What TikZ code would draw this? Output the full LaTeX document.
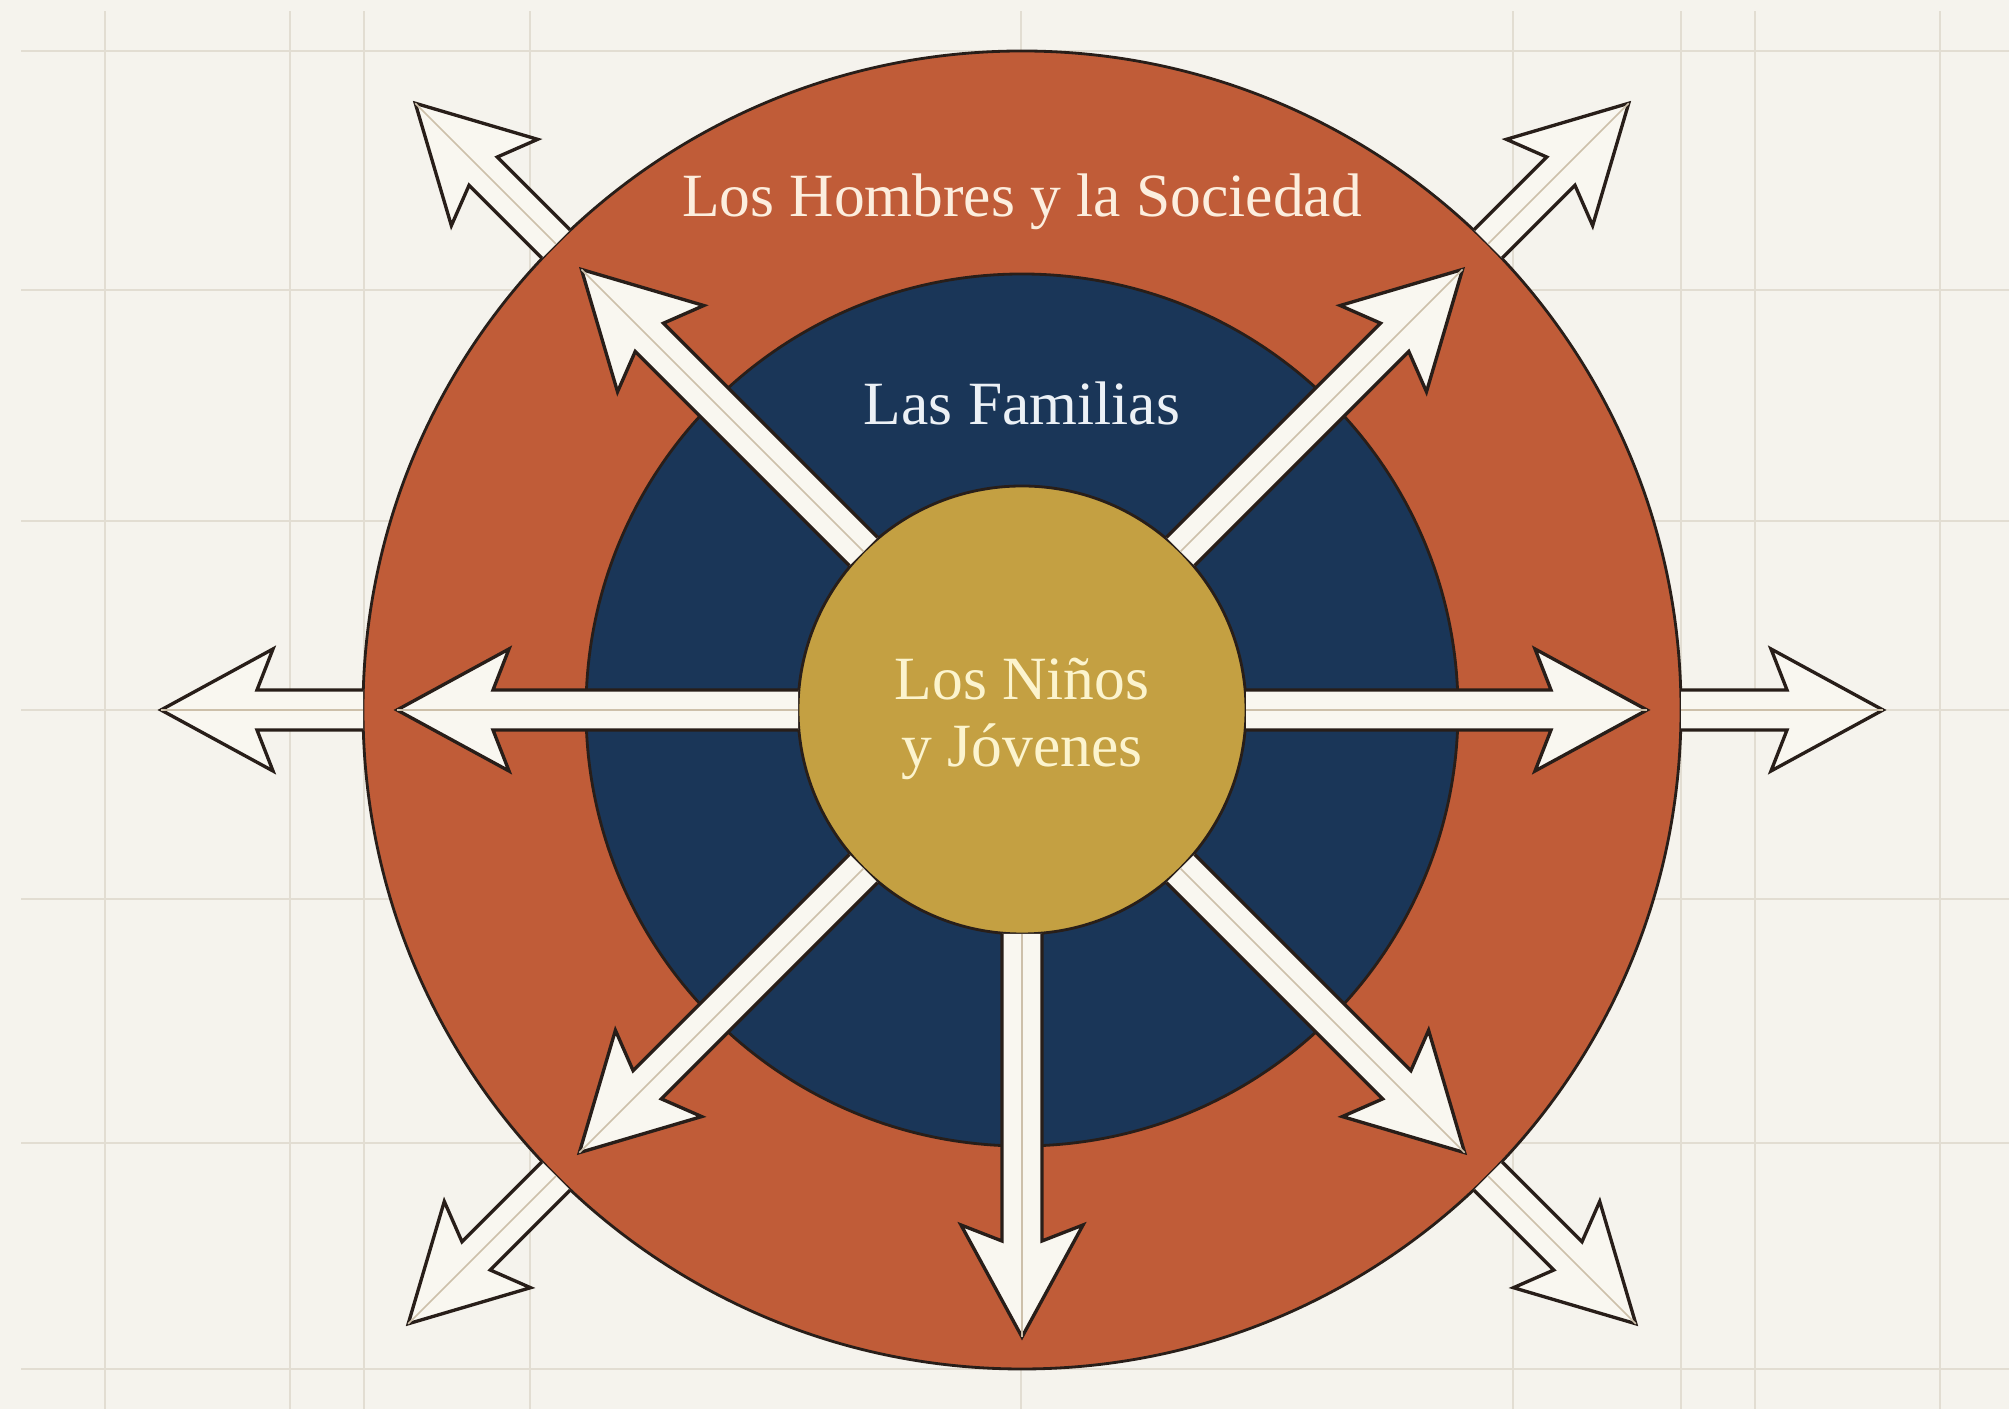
\documentclass[tikz,border=0pt]{standalone}
\usepackage{fontspec}
\setmainfont{Liberation Serif}
\usepackage{tikz}
\usetikzlibrary{shapes,positioning,calc}
\definecolor{fondo}{RGB}{245,243,237}
\definecolor{gris}{RGB}{226,221,210}
\definecolor{naranja}{RGB}{192,92,56}
\definecolor{azul}{RGB}{26,54,88}
\definecolor{oro}{RGB}{196,160,66}
\definecolor{crema}{RGB}{249,247,240}
\definecolor{borde}{RGB}{40,30,25}
\definecolor{trazo}{RGB}{205,192,170}
\definecolor{letranaranja}{RGB}{252,238,222}
\definecolor{letraazul}{RGB}{236,241,246}
\definecolor{letraoro}{RGB}{252,244,206}
\tikzstyle{anillo} = [circle, draw=borde, line width=0.8pt, inner sep=0pt]
\tikzstyle{flecha} = [draw=borde, fill=crema, line width=0.95pt, line join=miter]
\tikzstyle{eje} = [draw=trazo, line width=0.45pt]
\tikzstyle{rejilla} = [draw=gris, line width=0.7pt]
\tikzstyle{rotulo} = [font=\fontsize{17.5}{19}\selectfont, align=center]

\begin{document}
\begin{tikzpicture}
	\fill[fondo] (0,0) rectangle (20.09,14.09);
	\useasboundingbox (0,0) rectangle (20.09,14.09);
	\foreach \x in {1.05,2.90,3.64,5.30,10.21,15.13,16.81,17.55,19.40}
		\draw[rejilla] (\x,0) -- (\x,13.98);
	\foreach \y in {0.40,2.66,5.10,6.99,8.88,11.19,13.58}
		\draw[rejilla] (0.21,\y) -- (20.09,\y);
	\node (sociedad) at (10.22,6.99) [anillo, fill=naranja, minimum size=13.18cm] {};
	\node (familias) at (10.22,6.99) [anillo, fill=azul, minimum size=8.72cm] {};
	\node (ninos) at (10.22,6.99) [anillo, fill=oro, minimum size=4.48cm] {};
	\foreach \a/\ri/\re in {0/6.59/8.61, 45/6.59/8.58, 135/6.59/8.58, 180/6.59/8.61, 225/6.59/8.68, 315/6.59/8.68,
		0/2.24/6.25, 45/2.24/6.23, 135/2.24/6.23, 180/2.24/6.25, 225/2.24/6.26, 270/2.24/6.27, 315/2.24/6.26} {
		\begin{scope}[shift={(ninos.center)}, rotate=\a]
			\draw[flecha] (\ri,-0.20) -- (\re-0.96,-0.20) -- (\re-1.12,-0.61) -- (\re,0)
				-- (\re-1.12,0.61) -- (\re-0.96,0.20) -- (\ri,0.20);
			\draw[eje] (\ri,0) -- (\re,0);
		\end{scope}
	}
	\node (jovenes) at ($(ninos.center)+(0,-0.09)$) [rotulo, text=letraoro] {Los Niños\\y Jóvenes};
	\node (hombres) at (10.22,11.92) [rotulo, anchor=base, text=letranaranja] {Los Hombres y la Sociedad};
	\node (familia) at (10.22,9.84) [rotulo, anchor=base, text=letraazul] {Las Familias};
\end{tikzpicture}
\end{document}
